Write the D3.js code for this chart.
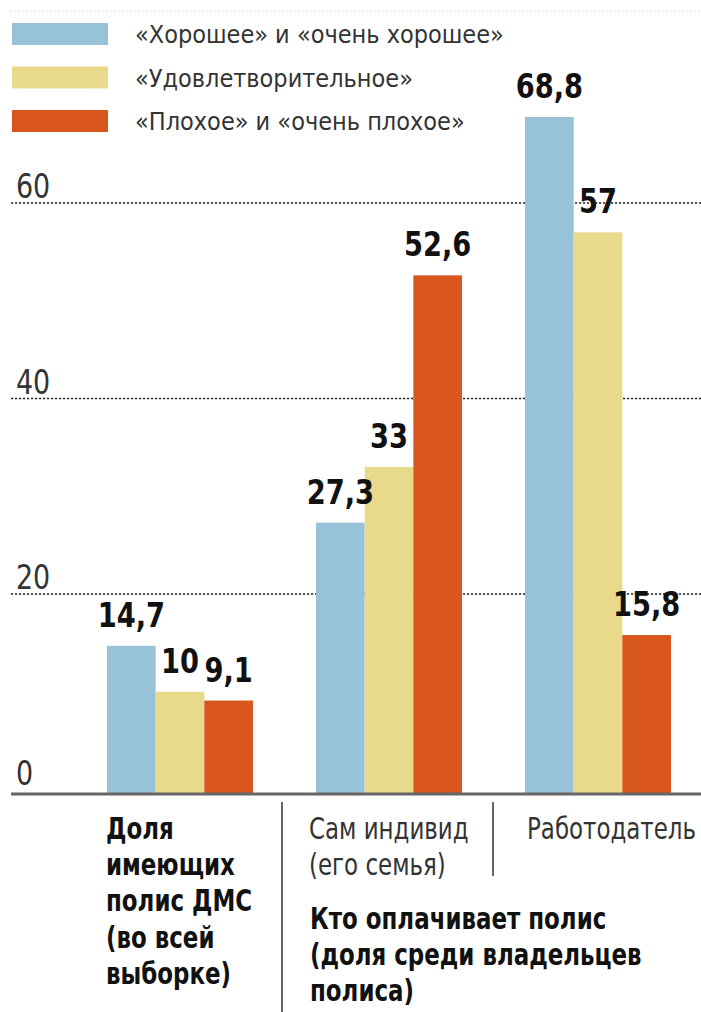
<!DOCTYPE html>
<html><head><meta charset="utf-8">
<script src="https://cdn.jsdelivr.net/npm/d3@7"></script>
<style>
html,body{margin:0;padding:0;background:#fff;}
svg{display:block;}
text{font-family:"Liberation Sans Narrow","DejaVu Sans Condensed","Roboto Condensed",sans-serif;}
</style></head>
<body>
<svg id="chart" width="701" height="1012"></svg>
<script>
const groups = ["Доля имеющих полис ДМС", "Сам индивид", "Работодатель"];
const seriesNames = ["«Хорошее» и «очень хорошее»", "«Удовлетворительное»", "«Плохое» и «очень плохое»"];
const seriesColors = ["#98c2d8", "#e9d98b", "#d9561c"];
const good = [14.7, 27.3, 68.8];
const satisfactory = [10, 33, 57];
const bad = [9.1, 52.6, 15.8];
const valueLabels = [["14,7","27,3","68,8"],["10","33","57"],["9,1","52,6","15,8"]];
const yTicks = [0, 20, 40, 60];
const cat1Lines = ["Доля", "имеющих", "полис ДМС", "(во всей", "выборке)"];
const cat2Lines = ["Сам индивид", "(его семья)"];
const cat3Lines = ["Работодатель"];
const payerLines = ["Кто оплачивает полис", "(доля среди владельцев", "полиса)"];

const series = [good, satisfactory, bad];
const svg = d3.select("#chart");

const axisY = 794;
const y = d3.scaleLinear().domain([0, 60]).range([789.5, 203]);
const x0 = d3.scaleBand().domain(groups).range([107, 671]).paddingInner(0.3014).paddingOuter(0);
const x1 = d3.scaleBand().domain([0,1,2]).range([0, x0.bandwidth()]).padding(0);

// faint top dotted line
svg.append("line").attr("x1", 10).attr("x2", 701).attr("y1", 11).attr("y2", 11)
  .attr("stroke", "#ddd").attr("stroke-dasharray", "2,2").attr("stroke-width", 1);

// gridlines
svg.append("g").selectAll("line").data(yTicks.filter(d => d > 0)).join("line")
  .attr("x1", 11).attr("x2", 701)
  .attr("y1", d => y(d)).attr("y2", d => y(d))
  .attr("stroke", "#222").attr("stroke-width", 1.4).attr("stroke-dasharray", "2.2,1.8");

// tick labels
svg.append("g").selectAll("text").data(yTicks).join("text")
  .attr("transform", d => `translate(16,${y(d) - 5}) scale(0.88,1)`)
  .attr("font-size", 34).attr("fill", "#333")
  .text(d => d);

// bars
const gg = svg.append("g").selectAll("g").data(groups).join("g")
  .attr("transform", d => `translate(${x0(d)},0)`);
gg.selectAll("rect").data((g, gi) => series.map((s, si) => ({si, v: s[gi]})))
  .join("rect")
  .attr("x", d => x1(d.si)).attr("width", x1.bandwidth())
  .attr("y", d => y(d.v)).attr("height", d => axisY - y(d.v))
  .attr("fill", d => seriesColors[d.si]);
gg.selectAll("text").data((g, gi) => series.map((s, si) => ({si, v: s[gi], label: valueLabels[si][gi]})))
  .join("text")
  .attr("transform", d => `translate(${x1(d.si) + x1.bandwidth() / 2},${y(d.v) - 19}) scale(0.92,1)`)
  .attr("text-anchor", "middle").attr("font-size", 33).attr("font-weight", "bold")
  .attr("fill", "#111")
  .text(d => d.label);

// baseline axis
svg.append("line").attr("x1", 11).attr("x2", 701).attr("y1", axisY).attr("y2", axisY)
  .attr("stroke", "#666").attr("stroke-width", 3);

// legend
const lg = svg.append("g").selectAll("g").data(seriesNames).join("g")
  .attr("transform", (d, i) => `translate(12,${23 + i * 43.5})`);
lg.append("rect").attr("width", 96).attr("height", 22).attr("fill", (d, i) => seriesColors[i]);
lg.append("text").attr("x", 123).attr("y", 20).attr("font-size", 25).attr("fill", "#333").text(d => d);

// separators
svg.append("line").attr("x1", 282).attr("x2", 282).attr("y1", 802).attr("y2", 1012).attr("stroke", "#333").attr("stroke-width", 1.5);
svg.append("line").attr("x1", 493).attr("x2", 493).attr("y1", 802).attr("y2", 876).attr("stroke", "#333").attr("stroke-width", 1.5);

// bottom labels
function block(lines, x, yTop, bold, color) {
  const t = svg.append("text")
    .attr("transform", `translate(${x},${yTop}) scale(0.85,1)`)
    .attr("font-size", 30).attr("font-weight", bold ? "bold" : "normal").attr("fill", color);
  t.selectAll("tspan").data(lines).join("tspan")
    .attr("x", 0).attr("y", (d, i) => i * 36.2).text(d => d);
}
block(cat1Lines, 106, 839, true, "#111");
block(cat2Lines, 309, 839, false, "#333");
block(cat3Lines, 527, 839, false, "#333");
block(payerLines, 310, 929, true, "#111");
</script>
</body></html>
